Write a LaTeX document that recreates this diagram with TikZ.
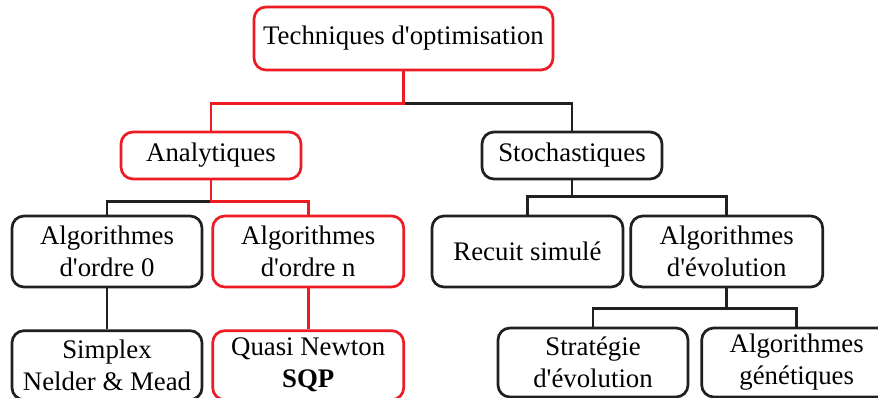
\documentclass[tikz,border=0pt]{standalone}
\usepackage{fontspec}
\setmainfont{Liberation Serif}[Ligatures=TeXOff]
\usepackage{xcolor}
\usepackage{tikz}
\usetikzlibrary{positioning,calc}
\definecolor{tRed}{RGB}{237,28,36}
\definecolor{tInk}{RGB}{35,31,32}
\newcommand{\optfont}{\fontsize{26.8}{32}\selectfont}
\tikzset{
  cat/.style={rectangle, rounded corners=12pt, draw=tInk, line width=2.7pt,
              fill=white, minimum height=71pt, minimum width=190pt,
              align=center, font=\optfont, inner sep=2pt},
  catred/.style={cat, draw=tRed},
  link/.style={draw=tInk, line width=2.9pt},
  linkred/.style={link, draw=tRed},
}

\begin{document}
\begin{tikzpicture}[x=1pt, y=1pt]
  \useasboundingbox (0,0) rectangle (878,-398);
  \node[catred, minimum width=299pt, minimum height=63pt] (tech) at (403.5,-38.5)
       {Techniques d'optimisation};
  \node[catred, minimum width=180pt, minimum height=47pt] (ana) at (211,-155.5) {Analytiques};
  \node[cat, minimum width=180pt, minimum height=47pt] (sto) at (572,-155.5) {Stochastiques};
  \node[cat] (ord0) at (107,-251.5) {Algorithmes\\d'ordre 0};
  \node[catred, minimum width=191pt, right=8pt of ord0] (ordn) {Algorithmes\\d'ordre n};
  \node[cat, minimum width=191pt] (recuit) at (527.5,-251.5) {Recuit simulé};
  \node[cat, minimum width=192pt, right=5pt of recuit] (evo) {Algorithmes\\d'évolution};
  \node[cat, minimum height=69pt, below=41pt of ord0] (simplex) {Simplex\\Nelder \& Mead};
  \node[catred, minimum width=191pt, minimum height=69pt, below=41pt of ordn] (quasi)
       {Quasi Newton\\\textbf{SQP}};
  \node[cat, minimum height=69pt] (strat) at (593,-362.5) {Stratégie\\d'évolution};
  \node[cat, minimum height=69pt, right=11pt of strat] (gen) {Algorithmes\\génétiques};
  % junctions
  \coordinate (jtech) at ($(tech.south)+(0,-32)$);
  \coordinate (jana) at ($(ana.south)+(0,-21)$);
  \coordinate (jsto) at ($(sto.south)+(0,-16)$);
  \coordinate (jevo) at ($(evo.south)+(0,-20)$);
  \draw[link] (jtech) -| (sto.north);
  \draw[linkred] (tech.south) -- (jtech) -| (ana.north);
  \draw[link] (jana) -| (ord0.north);
  \draw[linkred] (ana.south) -- (jana) -| (ordn.north);
  \draw[link] (sto.south) -- (jsto) -| (recuit.north);
  \draw[link] (jsto) -| (evo.north);
  \draw[link] (evo.south) -- (jevo) -| (strat.north);
  \draw[link] (jevo) -| (gen.north);
  \draw[link] (ord0) -- (simplex);
  \draw[linkred] (ordn) -- (quasi);
\end{tikzpicture}
\end{document}
